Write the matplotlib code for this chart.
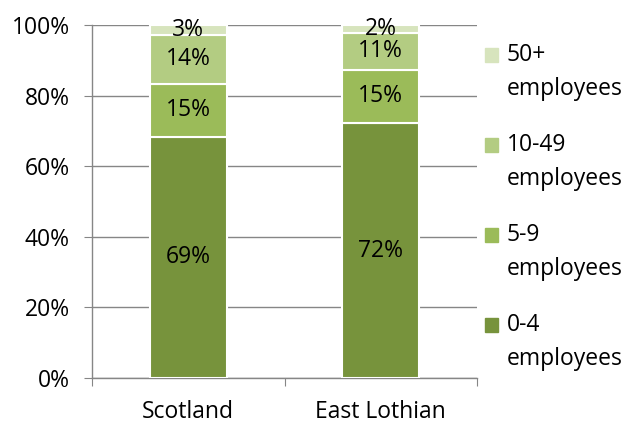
import matplotlib
matplotlib.use("Agg")
import matplotlib.pyplot as plt
from matplotlib.patches import Rectangle
import numpy as np

plt.rcParams['font.family'] = ['Open Sans', 'DejaVu Sans']

regions = ['Scotland', 'East Lothian']
bands = ['0-4', '5-9', '10-49', '50+']
# segment heights (%) as drawn, and the labels printed on them
heights = {
    '0-4': [68.3, 72.2],
    '5-9': [15.0, 15.1],
    '10-49': [13.9, 10.4],
    '50+': [2.8, 2.3],
}
labels = {
    '0-4': ['69%', '72%'],
    '5-9': ['15%', '15%'],
    '10-49': ['14%', '11%'],
    '50+': ['3%', '2%'],
}
colors = ['#77933C', '#9BBB59', '#B3CC82', '#D7E4BD']
yticks = [0, 20, 40, 60, 80, 100]
FS = 16.5

W, H = 625, 428
fig = plt.figure(figsize=(W/100, H/100), dpi=100)
ax = fig.add_axes([92/W, 1-378/H, (477-92)/W, (378-25)/H])

x = np.arange(len(regions))
bottom = np.zeros(len(regions))
for key, col in zip(bands, colors):
    h = np.array(heights[key])
    ax.bar(x, h, width=0.4, bottom=bottom, color=col,
           edgecolor='white', linewidth=1.5, zorder=3)
    for xi, bi, hi, txt in zip(x, bottom, h, labels[key]):
        ax.text(xi, bi + hi/2, txt, ha='center', va='center',
                fontsize=FS, color='black', zorder=4)
    bottom += h

ax.set_xlim(-0.5, 1.5)
ax.set_ylim(0, 100)
ax.set_yticks(yticks)
ax.set_yticklabels([f'{t}%' for t in yticks], fontsize=FS)
ax.set_xticks([-0.5, 0.5, 1.5], minor=False)
ax.set_xticklabels([])
ax.set_xticks(x, minor=True)
ax.set_xticklabels(regions, minor=True, fontsize=FS)
ax.tick_params(axis='x', which='minor', length=0, pad=16)
ax.tick_params(axis='x', which='major', length=6, color='#868686', direction='out')
ax.tick_params(axis='y', length=6, color='#868686', direction='out', pad=10)
ax.yaxis.grid(True, color='#868686', linewidth=1, zorder=0)
for s in ['top', 'right']:
    ax.spines[s].set_visible(False)
for s in ['left', 'bottom']:
    ax.spines[s].set_color('#868686')
    ax.spines[s].set_linewidth(1)

# legend, drawn by hand: square beside the first line of each label
for i, (key, col) in enumerate(zip(bands[::-1], colors[::-1])):
    yc = 55 + i * 90
    fig.patches.append(Rectangle((485/W, 1-(yc+7)/H), 13/W, 14/H,
                                 transform=fig.transFigure, color=col))
    fig.text(507/W, 1-yc/H, key, fontsize=FS, va='center', ha='left')
    fig.text(507/W, 1-(yc+34)/H, 'employees', fontsize=FS, va='center', ha='left')

fig.savefig('out.png', dpi=100)
